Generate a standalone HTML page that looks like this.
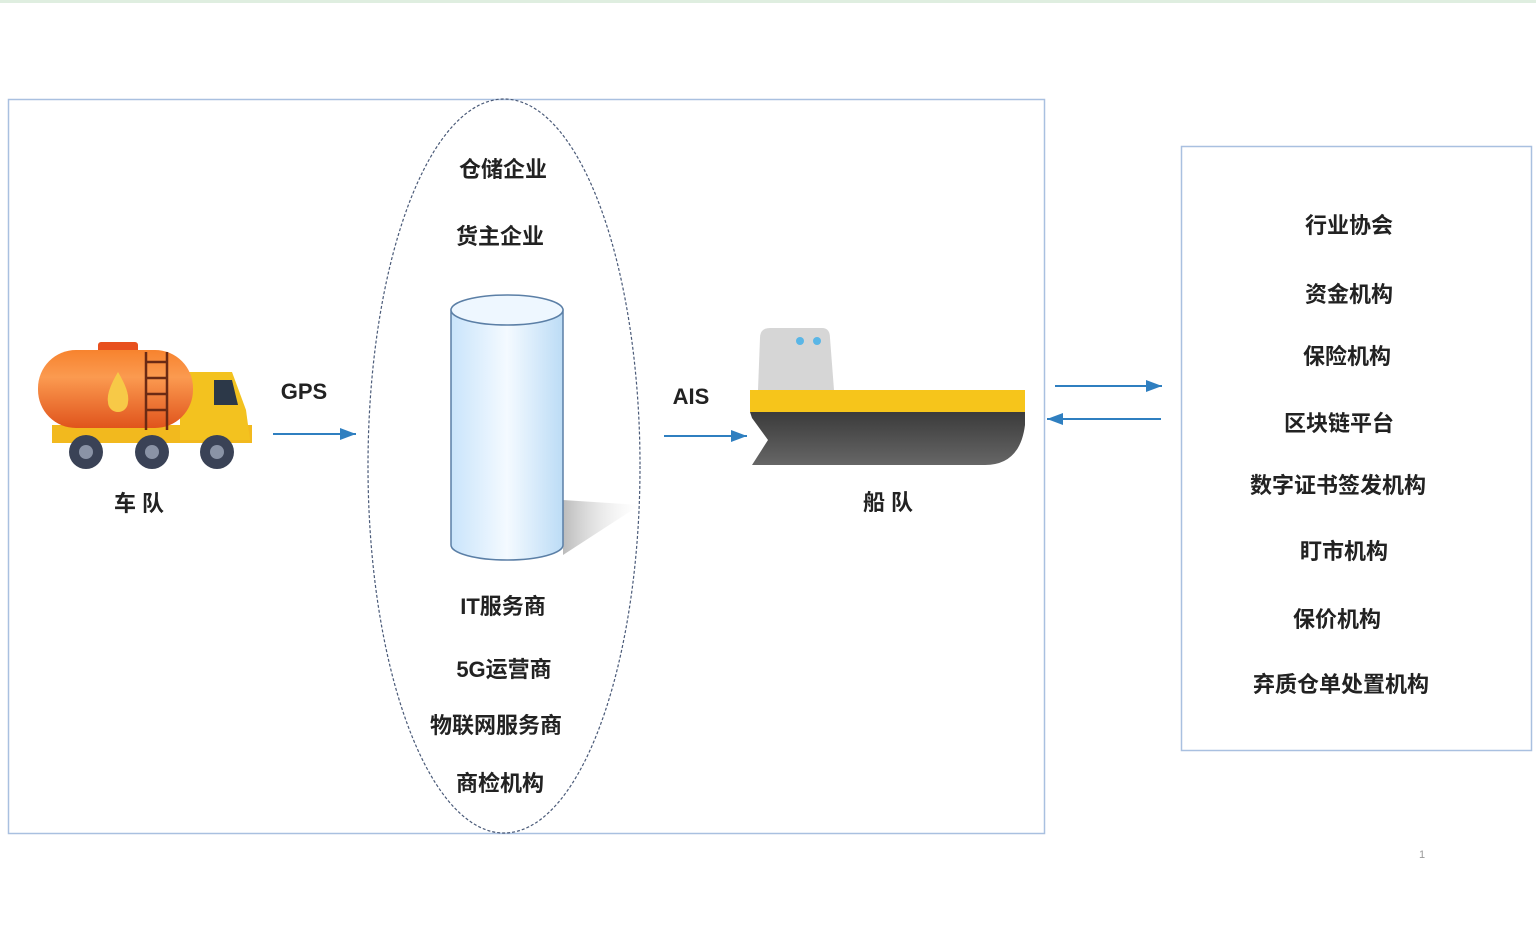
<!DOCTYPE html>
<html><head><meta charset="utf-8"><style>
body{margin:0;width:1536px;height:932px;background:#fff;overflow:hidden;font-family:"Liberation Sans","Noto Sans CJK SC",sans-serif;}
.t{position:absolute;font-weight:bold;font-size:22px;color:#222;white-space:nowrap;transform:translateX(-50%);}
</style></head><body>
<div style="position:absolute;left:0;top:0;width:1536px;height:3px;background:#dfeee0"></div>
<svg width="1536" height="932" style="position:absolute;left:0;top:0">
<defs>
<linearGradient id="cyl" x1="0" x2="1"><stop offset="0" stop-color="#c9e4fb"/><stop offset="0.5" stop-color="#f4faff"/><stop offset="1" stop-color="#bcdcf6"/></linearGradient>
<linearGradient id="tank" x1="0" y1="0" x2="0" y2="1"><stop offset="0" stop-color="#f7832e"/><stop offset="0.35" stop-color="#fb9a50"/><stop offset="1" stop-color="#e0541c"/></linearGradient>
<linearGradient id="hull" x1="0" y1="0" x2="0" y2="1"><stop offset="0" stop-color="#3b3b3b"/><stop offset="1" stop-color="#666"/></linearGradient>
<linearGradient id="sh" x1="0" x2="1"><stop offset="0" stop-color="#bbb"/><stop offset="1" stop-color="#eee" stop-opacity="0"/></linearGradient>
<marker id="a" markerWidth="10" markerHeight="10" refX="9" refY="5" orient="auto"><path d="M1,2 L9,5 L1,8 Z" fill="#2f7fc0"/></marker>
</defs>
<rect x="8.5" y="99.5" width="1036" height="734" fill="none" stroke="#a9c0e0" stroke-width="1.5"/>
<rect x="1181.5" y="146.5" width="350" height="604" fill="none" stroke="#a9c0e0" stroke-width="1.5"/>
<ellipse cx="504" cy="466" rx="136" ry="367" fill="none" stroke="#4a5a78" stroke-width="1.2" stroke-dasharray="3,2"/>
<polygon points="563,500 640,505 563,555" fill="url(#sh)"/>
<path d="M451,310 L451,545 A56,15 0 0 0 563,545 L563,310 Z" fill="url(#cyl)" stroke="#5b7fa6" stroke-width="1.5"/>
<ellipse cx="507" cy="310" rx="56" ry="15" fill="#eef7ff" stroke="#5b7fa6" stroke-width="1.5"/>
<line x1="273" y1="434" x2="356" y2="434" stroke="#2f7fc0" stroke-width="2" marker-end="url(#a)"/>
<line x1="664" y1="436" x2="747" y2="436" stroke="#2f7fc0" stroke-width="2" marker-end="url(#a)"/>
<line x1="1055" y1="386" x2="1162" y2="386" stroke="#2f7fc0" stroke-width="2" marker-end="url(#a)"/>
<line x1="1161" y1="419" x2="1047" y2="419" stroke="#2f7fc0" stroke-width="2" marker-end="url(#a)"/>
<rect x="98" y="342" width="40" height="12" rx="3" fill="#e8501e"/>
<rect x="52" y="425" width="200" height="18" fill="#f2b91e"/>
<path d="M180,372 L232,372 L246,410 L250,440 L180,440 Z" fill="#f3c21f"/>
<path d="M214,380 L232,380 L238,405 L214,405 Z" fill="#2c3848"/>
<rect x="38" y="350" width="155" height="78" rx="38" fill="url(#tank)"/>
<g stroke="#6b2a14" stroke-width="2.5"><line x1="146" y1="352" x2="146" y2="430"/><line x1="167" y1="352" x2="167" y2="430"/>
<line x1="146" y1="362" x2="167" y2="362"/><line x1="146" y1="378" x2="167" y2="378"/><line x1="146" y1="394" x2="167" y2="394"/><line x1="146" y1="410" x2="167" y2="410"/></g>
<path d="M118,372 Q130,392 128,402 A10,10 0 0 1 108,402 Q106,392 118,372 Z" fill="#f7c947"/>
<g fill="#3a4256"><circle cx="86" cy="452" r="17"/><circle cx="152" cy="452" r="17"/><circle cx="217" cy="452" r="17"/></g>
<g fill="#8a93a6"><circle cx="86" cy="452" r="7"/><circle cx="152" cy="452" r="7"/><circle cx="217" cy="452" r="7"/></g>
<path d="M760,338 Q760,328 770,328 L822,328 Q830,328 830,338 L834,390 L758,390 Z" fill="#d6d6d6"/>
<circle cx="800" cy="341" r="4" fill="#5ab6e6"/><circle cx="817" cy="341" r="4" fill="#5ab6e6"/>
<rect x="750" y="390" width="275" height="22" fill="#f6c51b"/>
<path d="M750,412 L1025,412 L1025,425 Q1020,465 985,465 L752,465 L768,440 L752,418 Z" fill="url(#hull)"/>
</svg>
<div class="t" style="left:304px;top:379px;">GPS</div>
<div class="t" style="left:691px;top:384px;">AIS</div>
<div class="t" style="left:139px;top:486px;">车 队</div>
<div class="t" style="left:888px;top:485px;">船 队</div>
<div class="t" style="left:503px;top:152px;">仓储企业</div>
<div class="t" style="left:500px;top:219px;">货主企业</div>
<div class="t" style="left:503px;top:589px;">IT服务商</div>
<div class="t" style="left:504px;top:652px;">5G运营商</div>
<div class="t" style="left:496px;top:708px;">物联网服务商</div>
<div class="t" style="left:500px;top:766px;">商检机构</div>
<div class="t" style="left:1349px;top:208px;">行业协会</div>
<div class="t" style="left:1349px;top:277px;">资金机构</div>
<div class="t" style="left:1347px;top:339px;">保险机构</div>
<div class="t" style="left:1339px;top:406px;">区块链平台</div>
<div class="t" style="left:1338px;top:468px;">数字证书签发机构</div>
<div class="t" style="left:1344px;top:534px;">盯市机构</div>
<div class="t" style="left:1337px;top:602px;">保价机构</div>
<div class="t" style="left:1341px;top:667px;">弃质仓单处置机构</div>
<div style="position:absolute;left:1419px;top:849px;font-size:11px;color:#999">1</div>
</body></html>
